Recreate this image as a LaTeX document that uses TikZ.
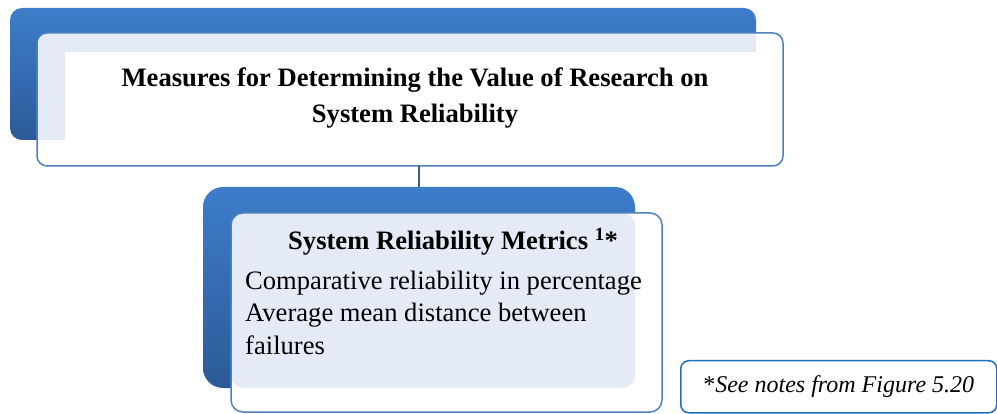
\documentclass[tikz,border=0pt]{standalone}
\usepackage{fontspec}
\setmainfont{Liberation Serif}
\usetikzlibrary{positioning}
\definecolor{sky}{RGB}{61,125,202}
\definecolor{deep}{RGB}{44,90,152}
\definecolor{rim}{RGB}{79,129,189}
\definecolor{mesh}{RGB}{228,235,246}
\definecolor{stem}{RGB}{58,94,140}
\definecolor{notecol}{RGB}{31,111,192}
\tikzset{
  back/.style={top color=sky,bottom color=deep,rounded corners=#1,
    inner sep=0pt,outer sep=0pt,anchor=north west},
  back/.default=12pt,
  front/.style={draw=rim,fill=white,line width=1.5pt,rounded corners=10pt,
    inner sep=0pt,outer sep=0pt,anchor=north west},
  body/.style={font=\fontsize{26.6}{32.5}\selectfont,inner sep=0pt},
  headtxt/.style={font=\fontsize{26.6}{36}\selectfont\bfseries,inner sep=0pt},
  notebox/.style={draw=notecol,fill=white,line width=1.5pt,rounded corners=8pt,
    inner sep=0pt,anchor=north west,font=\fontsize{24}{28}\selectfont},
  stemline/.style={draw=stem,line width=1.5pt},
}

\begin{document}
\begin{tikzpicture}[x=1pt,y=-1pt]
  \useasboundingbox (0,0) rectangle (997,414);
  % upper block
  \node[back,minimum width=746pt,minimum height=132pt] (topback) at (10,8) {};
  \node[front,minimum width=746pt,minimum height=133pt,
    path picture={
      \fill[mesh,sharp corners] (path picture bounding box.north west) rectangle
        ([shift={(719,107)}]path picture bounding box.north west);
      \fill[white,sharp corners] ([shift={(28,19)}]path picture bounding box.north west) rectangle
        ([shift={(719,107)}]path picture bounding box.north west);
    }] (topfront) at (37,33) {};
  \node[headtxt,align=center] (title) at (415,97.7)
    {Measures for Determining the Value of Research on\\System Reliability};
  % lower block
  \node[back=20pt,minimum width=432pt,minimum height=201pt] (lowback) at (203,187) {};
  \node[front,rounded corners=12pt,minimum width=431pt,minimum height=199pt,
    path picture={
      \fill[mesh,rounded corners=13pt] (path picture bounding box.north west) rectangle
        ([shift={(404,175)}]path picture bounding box.north west);
    }] (lowfront) at (231,213) {};
  \node[headtxt,anchor=base west] (metrics) at (288,250)
    {System Reliability Metrics \textsuperscript{1}*};
  \node[body,align=left,anchor=north west] (items) at (245,270.8)
    {Comparative reliability in percentage\\Average mean distance between\\failures};
  \draw[stemline] (lowback.north) -- (lowback.north |- topfront.south);
  % note
  \node[notebox,minimum width=316pt,minimum height=52pt] (note) at (680,360)
    {*\textit{See notes from Figure 5.20}};
\end{tikzpicture}
\end{document}
